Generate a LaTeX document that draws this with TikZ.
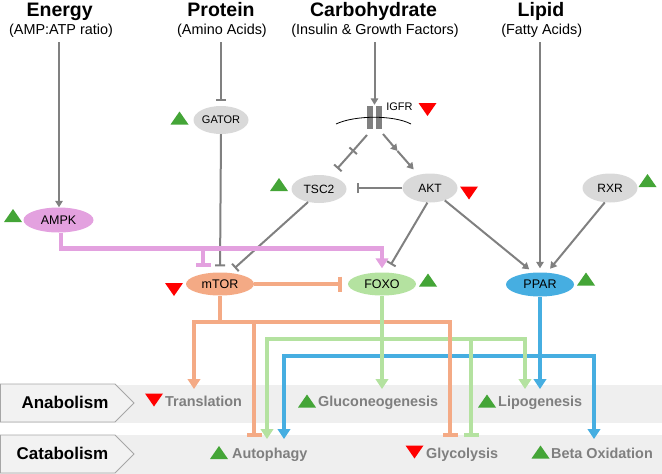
\documentclass[tikz,border=0pt]{standalone}
\usepackage{fontspec}
\setmainfont{Liberation Sans}
\usetikzlibrary{arrows.meta,shapes.geometric,calc}
\newcommand\myfs[1]{\fontsize{#1}{#1}\selectfont}
\definecolor{tgreen}{HTML}{44A537}
\definecolor{tred}{HTML}{FF0000}
\definecolor{cpink}{HTML}{E3A1DF}
\definecolor{corange}{HTML}{F4AA85}
\definecolor{cgreen}{HTML}{B4E2A0}
\definecolor{cblue}{HTML}{46AEE1}
\definecolor{ngrey}{HTML}{D9D9D9}
\definecolor{lgrey}{HTML}{808080}
\definecolor{tgrey}{HTML}{7F7F7F}
\definecolor{bandc}{HTML}{EFEFEF}
\definecolor{boxf}{HTML}{F2F2F2}
\definecolor{boxd}{HTML}{A6A6A6}
\begin{document}
\begin{tikzpicture}[x=1pt,y=-1pt,
  ttl/.style={anchor=base,inner sep=0pt,font=\myfs{19.5}\bfseries},
  subt/.style={anchor=base,inner sep=0pt,font=\myfs{14.4}},
  gnode/.style={ellipse,fill=ngrey,inner sep=0pt,minimum width=55pt,minimum height=29pt,font=\myfs{12}},
  cnode/.style={ellipse,inner sep=0pt,minimum width=68pt,minimum height=23pt,font=\myfs{12.5}},
  outc/.style={anchor=base west,inner sep=0pt,text=tgrey,font=\myfs{14.4}\bfseries},
  catf/.style={anchor=base,inner sep=0pt,font=\myfs{17}\bfseries},
  garr/.style={draw=lgrey,line width=2pt,-{Triangle[length=6.5pt,width=7.5pt]}},
  ginh/.style={draw=lgrey,line width=2pt,-{Bar[width=10pt]}},
  carr/.style={line width=4.2pt,-{Triangle[length=10pt,width=12.5pt]}},
  cinh/.style={line width=4.2pt,-{Bar[width=15pt]}},
  uptri/.pic={\fill[tgreen] (-9,6.5) -- (9,6.5) -- (0,-6.5) -- cycle;},
  dntri/.pic={\fill[tred] (-9,-6.5) -- (9,-6.5) -- (0,6.5) -- cycle;}
]
\useasboundingbox (0,0) rectangle (662,474);

% bands
\fill[bandc] (0,385) rectangle (662,423);
\fill[bandc] (0,435) rectangle (662,474);
\draw[boxd,fill=boxf,line width=0.8pt] (0.5,384) -- (115,384) -- (134,403) -- (115,422) -- (0.5,422) -- cycle;
\draw[boxd,fill=boxf,line width=0.8pt] (0.5,435) -- (115,435) -- (134,454) -- (115,473) -- (0.5,473) -- cycle;
\node[catf] (anab) at (65,408) {Anabolism};
\node[catf] (catab) at (62.5,459) {Catabolism};

% titles
\node[ttl] (en) at (59.7,16.5) {Energy};
\node[subt] (ens) at (61,34) {(AMP:ATP ratio)};
\node[ttl] (pr) at (221,16.5) {Protein};
\node[subt] (prs) at (222,34) {(Amino Acids)};
\node[ttl] (ca) at (373.5,16.5) {Carbohydrate};
\node[subt] (cas) at (375,34) {(Insulin \& Growth Factors)};
\node[ttl] (li) at (541,16.5) {Lipid};
\node[subt] (lis) at (541.7,34) {(Fatty Acids)};

% nodes
\node[cnode,fill=cpink,minimum width=70pt,minimum height=25pt] (ampk) at (58.5,220) {AMPK};
\node[gnode,minimum width=55pt,minimum height=28pt,font=\myfs{11}] (gator) at (221,120) {GATOR};
\node[gnode,minimum height=28pt] (tsc2) at (319,189) {TSC2};
\node[gnode] (akt) at (430,188) {AKT};
\node[gnode] (rxr) at (610,188) {RXR};
\node[cnode,fill=corange] (mtor) at (220,284) {mTOR};
\node[cnode,fill=cgreen] (foxo) at (382,284) {FOXO};
\node[cnode,fill=cblue,minimum height=24pt] (ppar) at (540,284.5) {PPAR};

% receptor
\node[minimum width=15pt,minimum height=23pt,inner sep=0pt] (rec) at (374.5,117.5) {};
\fill[lgrey] (rec.north west) rectangle ++(6,23);
\fill[lgrey] ($(rec.north east)+(-6,0)$) rectangle (rec.south east);
\draw[black,line width=0.8pt] (336,124) .. controls (355,115) and (394,115) .. (411,124);
\node[anchor=base,inner sep=0pt,font=\myfs{11}] (igfrl) at (399.5,110) {IGFR};

% start coordinates
\coordinate (e0) at (59,42);
\coordinate (p0) at (221,42);
\coordinate (c0) at (374.5,42);
\coordinate (l0) at (540,42);
\coordinate (r1) at (367,135);
\coordinate (m1) at (352.5,151.5);
\coordinate (r2) at (383,134);
\coordinate (m2) at (397.5,151);

% grey connectors
\draw[garr] (e0) -- (e0 |- ampk.north);
\draw[ginh,shorten >=5pt] (p0) -- (gator.north);
\draw[garr,shorten >=1pt] (c0) -- (rec.north);
\draw[ginh] (r1) -- (m1);
\draw[ginh,shorten >=10pt] (m1) -- (tsc2);
\draw[garr] (r2) -- (m2);
\draw[garr,shorten >=7pt] (m2) -- (akt);
\draw[ginh,shorten >=10pt] (akt.west) -- (akt.west -| tsc2.east);
\draw[ginh,shorten >=6pt] (gator.south) -- (mtor.north);
\draw[ginh,shorten >=7pt] (tsc2.230) -- (mtor.50);
\draw[ginh,shorten >=9pt] (akt.260) -- (foxo.70);
\draw[garr,shorten >=5pt] (akt.320) -- (ppar.120);
\draw[garr,shorten >=4pt] (l0) -- (ppar.north);
\draw[garr,shorten >=5pt] (rxr.250) -- (ppar.60);

% pink
\coordinate (pkh) at (0,248.5);
\coordinate (pv) at (61,0);
\coordinate (pb) at (203,248.5);
\draw[carr,draw=cpink,shorten >=4pt] (pv |- ampk.south) -- (pv |- pkh) -| (foxo.north);
\draw[cinh,draw=cpink,shorten >=5pt] (pb) -- (pb |- mtor.north);

% mTOR -| FOXO
\draw[cinh,draw=corange,shorten >=6pt] (mtor.east) -- (foxo.west);

% blue
\coordinate (bh) at (0,356);
\coordinate (bA) at (284,439);
\coordinate (bB) at (594,439);
\coordinate (bL) at (540,389);
\draw[carr,draw=cblue] (ppar.south) -- (bL);
\draw[carr,draw=cblue] (ppar.south |- bh) -| (bA);
\draw[carr,draw=cblue] (ppar.south |- bh) -| (bB);

% green branches
\coordinate (gh) at (0,339);
\coordinate (gA) at (267,439);
\coordinate (gG) at (471,437);
\coordinate (gL) at (525,389);
\coordinate (gN) at (382,389);
\draw[carr,draw=cgreen] (foxo.south |- gh) -| (gA);
\draw[cinh,draw=cgreen] (foxo.south |- gh) -| (gG);
\draw[carr,draw=cgreen] (foxo.south |- gh) -| (gL);

% orange
\coordinate (oh) at (0,322);
\coordinate (oT) at (194,389);
\coordinate (oA) at (254,437);
\coordinate (oG) at (450,437);
\draw[carr,draw=corange] (mtor.south) -- (mtor.south |- oh) -| (oT);
\draw[cinh,draw=corange] (mtor.south |- oh) -| (oA);
\draw[cinh,draw=corange] (mtor.south |- oh) -| (oG);

% FOXO vertical on top
\draw[carr,draw=cgreen] (foxo.south) -- (gN);

% outcomes
\node[outc] (trans) at (165,406.5) {Translation};
\node[outc] (gluco) at (318,406.5) {Gluconeogenesis};
\node[outc] (lipo) at (498,406.5) {Lipogenesis};
\node[outc] (auto) at (232,458) {Autophagy};
\node[outc] (glyco) at (426,458) {Glycolysis};
\node[outc] (beta) at (551,458) {Beta Oxidation};

% triangles
\pic at (13,215.5) {uptri};
\pic at (179.5,118) {uptri};
\pic at (279,184.5) {uptri};
\pic at (427.5,109.5) {dntri};
\pic at (469,193) {dntri};
\pic at (647.5,180.5) {uptri};
\pic at (174,289.5) {dntri};
\pic at (428,280) {uptri};
\pic at (586,279) {uptri};
\pic at (154,400) {dntri};
\pic at (307,401) {uptri};
\pic at (487,401) {uptri};
\pic at (219,452.5) {uptri};
\pic at (414.5,452) {dntri};
\pic at (540.5,452) {uptri};
\end{tikzpicture}
\end{document}
